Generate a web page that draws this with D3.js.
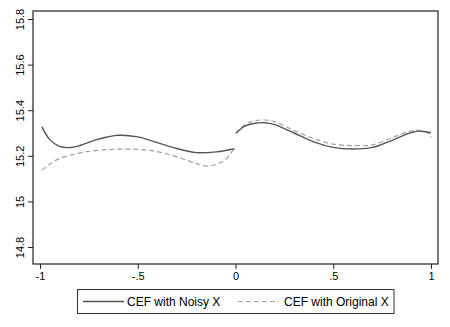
<!DOCTYPE html>
<html>
<head>
<meta charset="utf-8">
<script src="https://cdn.jsdelivr.net/npm/d3@7"></script>
<style>
  body { margin: 0; background: #fff; }
  text { font-family: "Liberation Sans", Arial, sans-serif; fill: #000; }
</style>
</head>
<body>
<div id="chart"></div>
<script>
// chart values

var xTicks = [-1, -0.5, 0, 0.5, 1];
var xTickLabels = ["-1", "-.5", "0", ".5", "1"];
var yTicks = [14.8, 15, 15.2, 15.4, 15.6, 15.8];
var yTickLabels = ["14.8", "15", "15.2", "15.4", "15.6", "15.8"];

var seriesNames = ["CEF with Noisy X", "CEF with Original X"];

// left piece (x below 0)
var noisyLeftX = [-0.99, -0.95, -0.9, -0.85, -0.8, -0.7, -0.6, -0.5, -0.4, -0.3, -0.2, -0.1, -0.005];
var noisyLeftY = [15.327, 15.271, 15.241, 15.236, 15.244, 15.273, 15.290, 15.283, 15.258, 15.232, 15.214, 15.217, 15.231];
var origLeftX = [-0.99, -0.95, -0.9, -0.8, -0.7, -0.6, -0.5, -0.4, -0.3, -0.2, -0.15, -0.1, -0.05, -0.005];
var origLeftY = [15.136, 15.164, 15.188, 15.212, 15.224, 15.229, 15.228, 15.218, 15.195, 15.166, 15.155, 15.162, 15.184, 15.236];

// right piece (x above 0)
var noisyRightX = [0.002, 0.05, 0.1, 0.15, 0.2, 0.3, 0.4, 0.5, 0.6, 0.7, 0.8, 0.9, 0.95, 1.0];
var noisyRightY = [15.299, 15.331, 15.343, 15.345, 15.337, 15.300, 15.261, 15.237, 15.230, 15.237, 15.268, 15.302, 15.308, 15.301];
var origRightX = [0.002, 0.05, 0.1, 0.15, 0.2, 0.3, 0.4, 0.5, 0.6, 0.7, 0.8, 0.9, 0.95, 0.98, 1.0];
var origRightY = [15.298, 15.337, 15.354, 15.357, 15.350, 15.311, 15.276, 15.251, 15.245, 15.248, 15.279, 15.310, 15.312, 15.302, 15.282];

var svgWidth = 450;
var svgHeight = 327;

var svg = d3.select("#chart")
  .append("svg")
  .attr("width", svgWidth)
  .attr("height", svgHeight);

// scales: x ticks -1 .. 1 at 40 .. 431, y ticks 15.8 .. 14.8 at 19 .. 247
var xScale = d3.scaleLinear().domain([-1, 1]).range([40, 431]);
var yScale = d3.scaleLinear().domain([14.8, 15.8]).range([247, 19]);

var plot = { left: 33, right: 438, top: 11, bottom: 264 };

// plot region frame
svg.append("rect")
  .attr("x", plot.left)
  .attr("y", plot.top)
  .attr("width", plot.right - plot.left)
  .attr("height", plot.bottom - plot.top)
  .attr("fill", "none")
  .attr("stroke", "#222")
  .attr("stroke-width", 1.2);

// axes
var bottomAxis = d3.axisBottom(xScale)
  .tickValues(xTicks)
  .tickSize(5)
  .tickPadding(3)
  .tickFormat((d, i) => xTickLabels[i]);

var leftAxis = d3.axisLeft(yScale)
  .tickValues(yTicks)
  .tickSize(5)
  .tickPadding(3)
  .tickFormat((d, i) => yTickLabels[i]);

var gx = svg.append("g")
  .attr("transform", `translate(0, ${plot.bottom})`)
  .call(bottomAxis);
gx.select(".domain").remove();
gx.selectAll("line").attr("stroke", "#222");
gx.selectAll("text")
  .style("font-size", "11px")
  .style("font-family", "Liberation Sans, Arial, sans-serif");

var gy = svg.append("g")
  .attr("transform", `translate(${plot.left}, 0)`)
  .call(leftAxis);
gy.select(".domain").remove();
gy.selectAll("line").attr("stroke", "#222");
// rotated labels, tick groups already sit at their y
gy.selectAll("text")
  .style("font-size", "11px")
  .style("font-family", "Liberation Sans, Arial, sans-serif")
  .attr("text-anchor", "middle")
  .attr("x", 0)
  .attr("y", 0)
  .attr("dy", 0)
  .attr("transform", "translate(-9, 0) rotate(-90)");

// lines
var line = d3.line()
  .x(d => xScale(d[0]))
  .y(d => yScale(d[1]))
  .curve(d3.curveCatmullRom);

function pairs(xs, ys) {
  return xs.map((x, i) => [x, ys[i]]);
}

var solidStyle = { stroke: "#555", width: 1.4, dash: null };
var dashStyle = { stroke: "#a0a0a0", width: 1.2, dash: "5,3" };

[
  [pairs(origLeftX, origLeftY), dashStyle],
  [pairs(origRightX, origRightY), dashStyle],
  [pairs(noisyLeftX, noisyLeftY), solidStyle],
  [pairs(noisyRightX, noisyRightY), solidStyle]
].forEach(function (s) {
  svg.append("path")
    .datum(s[0])
    .attr("d", line)
    .attr("fill", "none")
    .attr("stroke", s[1].stroke)
    .attr("stroke-width", s[1].width)
    .attr("stroke-dasharray", s[1].dash);
});

// legend
var legend = svg.append("g");
legend.append("rect")
  .attr("x", 77.5)
  .attr("y", 289.5)
  .attr("width", 316.5)
  .attr("height", 24)
  .attr("fill", "#fff")
  .attr("stroke", "#333")
  .attr("stroke-width", 1);

var legendItems = [
  { name: seriesNames[0], x1: 83, x2: 124, tx: 127, style: solidStyle },
  { name: seriesNames[1], x1: 238, x2: 279, tx: 284, style: dashStyle }
];

legendItems.forEach(function (d) {
  legend.append("line")
    .attr("x1", d.x1)
    .attr("x2", d.x2)
    .attr("y1", 301.5)
    .attr("y2", 301.5)
    .attr("stroke", d.style.stroke)
    .attr("stroke-width", d.style.width)
    .attr("stroke-dasharray", d.style.dash);
  legend.append("text")
    .attr("x", d.tx)
    .attr("y", 305.5)
    .style("font-size", "12px")
    .text(d.name);
});
</script>
</body>
</html>
